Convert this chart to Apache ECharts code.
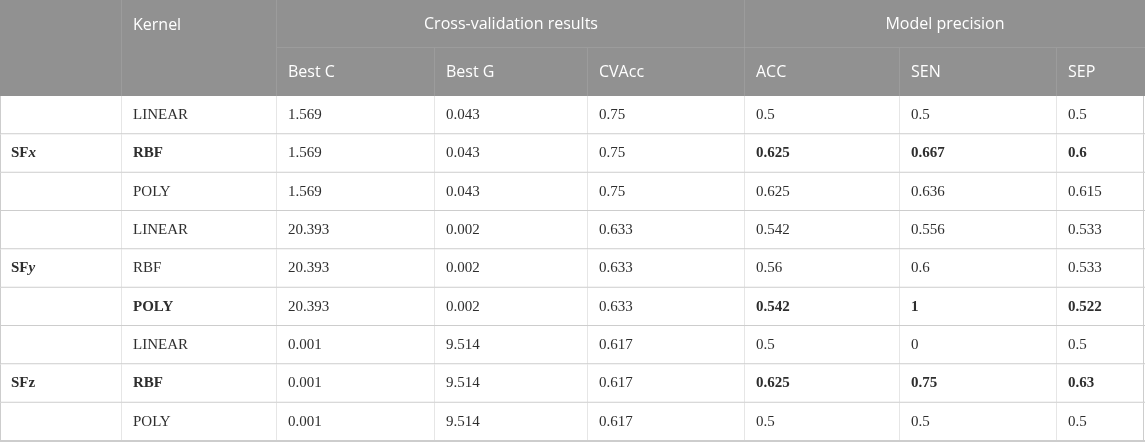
<!DOCTYPE html>
<html>
<head>
<meta charset="utf-8">
<script src="https://cdn.jsdelivr.net/npm/echarts@6/dist/echarts.min.js"></script>
<style>
  html, body { margin: 0; padding: 0; background: #fff; }
  #container { width: 1145px; height: 442px; }
</style>
</head>
<body>
<div id="container"></div>
<script>
var features = ["SFx", "SFy", "SFz"];
var kernels = ["LINEAR", "RBF", "POLY"];
var bestKernel = ["RBF", "POLY", "RBF"];
var bestC = [1.569, 1.569, 1.569, 20.393, 20.393, 20.393, 0.001, 0.001, 0.001];
var bestG = [0.043, 0.043, 0.043, 0.002, 0.002, 0.002, 9.514, 9.514, 9.514];
var cvAcc = [0.75, 0.75, 0.75, 0.633, 0.633, 0.633, 0.617, 0.617, 0.617];
var acc = [0.5, 0.625, 0.625, 0.542, 0.56, 0.542, 0.5, 0.625, 0.5];
var sen = [0.5, 0.667, 0.636, 0.556, 0.6, 1, 0, 0.75, 0.5];
var sep = [0.5, 0.6, 0.615, 0.533, 0.533, 0.522, 0.5, 0.63, 0.5];
var groupHeads = ["Kernel", "Cross-validation results", "Model precision"];
var subHeads = ["Best C", "Best G", "CVAcc", "ACC", "SEN", "SEP"];

// layout (pixels of the 1145 x 442 page)
var colEdges = [0, 122, 277, 435, 588, 745, 900, 1057, 1144];
var rowEdges = [0, 48, 96];
for (var i = 1; i <= 9; i++) rowEdges.push(96 + i * (441 - 96) / 9);

var cells = [];
function cell(c0, c1, r0, r1, text, opt) {
  opt = opt || {};
  cells.push({
    value: [colEdges[c0], colEdges[c1], rowEdges[r0], rowEdges[r1]],
    text: text, head: !!opt.head, bold: !!opt.bold, center: !!opt.center,
    top: !!opt.top, first: c0 === 0, last: c1 === 8, feat: !!opt.feat
  });
}

// header
cell(0, 1, 0, 2, "", { head: true });
cell(1, 2, 0, 2, groupHeads[0], { head: true, top: true });
cell(2, 5, 0, 1, groupHeads[1], { head: true, center: true });
cell(5, 8, 0, 1, groupHeads[2], { head: true, center: true });
subHeads.forEach(function (h, j) { cell(2 + j, 3 + j, 1, 2, h, { head: true }); });

// body
var cols = [bestC, bestG, cvAcc, acc, sen, sep];
for (var r = 0; r < 9; r++) {
  var g = Math.floor(r / 3);
  var k = kernels[r % 3];
  var isBest = k === bestKernel[g];
  var row = r + 2;
  cell(0, 1, row, row + 1, r % 3 === 1 ? features[g] : "", { bold: true, feat: true });
  cell(1, 2, row, row + 1, k, { bold: isBest });
  cols.forEach(function (arr, j) {
    cell(2 + j, 3 + j, row, row + 1, String(arr[r]), { bold: isBest && j >= 3 });
  });
}

function renderCell(params, api) {
  var d = cells[params.dataIndex];
  var p0 = api.coord([api.value(0), api.value(2)]);
  var p1 = api.coord([api.value(1), api.value(3)]);
  var x0 = p0[0], y0 = p0[1], x1 = p1[0], y1 = p1[1];
  if (d.last) x1 = 1145;
  var children = [];
  children.push({
    type: "rect",
    shape: { x: x0, y: y0, width: x1 - x0, height: (d.head ? y1 - y0 : y1 - y0) },
    style: { fill: d.head ? "#919191" : "#ffffff" }
  });
  var lineCol = d.head ? "#a6a6a6" : "#cdcdcd";
  if (!d.last) {
    children.push({
      type: "line",
      shape: { x1: x1, y1: y0, x2: x1, y2: y1 },
      style: { stroke: lineCol, lineWidth: 1 }
    });
  } else if (!d.head) {
    children.push({
      type: "line",
      shape: { x1: 1143.5, y1: y0, x2: 1143.5, y2: y1 },
      style: { stroke: lineCol, lineWidth: 1 }
    });
  }
  if (d.first && !d.head) {
    children.push({
      type: "line",
      shape: { x1: x0 + 0.5, y1: y0, x2: x0 + 0.5, y2: y1 },
      style: { stroke: lineCol, lineWidth: 1 }
    });
  }
  if (!(d.head && y1 >= 96)) {
    children.push({
      type: "line",
      shape: { x1: x0, y1: y1, x2: x1, y2: y1 },
      style: { stroke: lineCol, lineWidth: d.head ? 1 : 2 }
    });
  }
  if (d.text) {
    var ty = d.top ? y0 + 25 : (y0 + y1) / 2;
    var st = {
      x: d.center ? (x0 + x1) / 2 : x0 + 11,
      y: ty,
      align: d.center ? "center" : "left",
      verticalAlign: "middle",
      fill: d.head ? "#ffffff" : "#2e2e2e",
      fontFamily: d.head ? "Open Sans" : "Liberation Serif",
      fontSize: d.head ? 16 : 15,
      fontWeight: d.bold ? "bold" : "normal"
    };
    if (d.feat && d.text !== "SFz") {
      st.text = "{b|SF}{i|" + d.text.slice(2) + "}";
      st.rich = {
        b: { fontFamily: "Liberation Serif", fontSize: 15, fontWeight: "bold", fill: "#2e2e2e" },
        i: { fontFamily: "Liberation Serif", fontSize: 15, fontWeight: "bold", fontStyle: "italic", fill: "#2e2e2e" }
      };
    } else {
      st.text = d.text;
    }
    children.push({ type: "text", style: st });
  }
  return { type: "group", children: children };
}

var myChart = echarts.init(document.getElementById("container"));
var option = {
  animation: false,
  grid: { left: 0, right: 0, top: 0, bottom: 0 },
  xAxis: { type: "value", min: 0, max: 1145, show: false },
  yAxis: { type: "value", min: 0, max: 442, inverse: true, show: false },
  series: [
    {
      type: "custom",
      renderItem: renderCell,
      encode: { x: [0, 1], y: [2, 3] },
      data: cells.map(function (c) { return c.value; }),
      clip: false,
      silent: true
    }
  ]
};
myChart.setOption(option, true);
</script>
</body>
</html>
